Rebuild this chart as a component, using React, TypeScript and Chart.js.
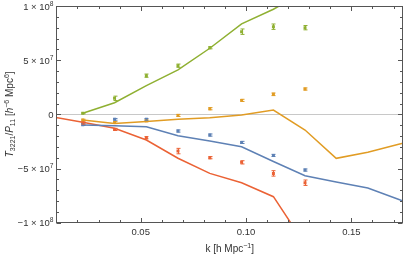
import { useEffect, useRef } from "react";
import { Chart, registerables } from "chart.js";
Chart.register(...registerables);

// ---- data ----
const kModel = [0.0074, 0.0225, 0.0376, 0.0527, 0.0677, 0.0828, 0.0979, 0.113, 0.128, 0.1428, 0.1578, 0.1729, 0.188];
const greenModel = [null, 0.1e7, 1.07e7, 2.65e7, 4.1e7, 6.1e7, 8.35e7, 9.7e7, 11.35e7, null, null, null, null];
const orangeModel = [null, -0.53e7, -0.85e7, -0.66e7, -0.46e7, -0.31e7, -0.06e7, 0.4e7, -1.45e7, -4.06e7, -3.5e7, -2.74e7, -2.0e7];
const blueModel = [null, -0.99e7, -1.05e7, -1.14e7, -1.98e7, -2.47e7, -2.99e7, -4.35e7, -5.67e7, -6.25e7, -6.8e7, -7.88e7, -8.95e7];
const redModel = [-0.2e7, -0.73e7, -1.29e7, -2.37e7, -4.05e7, -5.45e7, -6.32e7, -7.6e7, -12e7, null, null, null, null];

const kPoints = [0.0225, 0.0376, 0.0527, 0.0677, 0.0828, 0.0979, 0.113, 0.128];
const greenPts = [0.1e7, 1.48e7, 3.57e7, 4.49e7, 6.15e7, 7.63e7, 8.09e7, 8.0e7];
const greenErr = [0.05e7, 0.2e7, 0.15e7, 0.15e7, 0.1e7, 0.25e7, 0.25e7, 0.2e7];
const orangePts = [-0.53e7, -0.75e7, -0.6e7, -0.1e7, 0.52e7, 1.29e7, 1.85e7, 2.34e7];
const orangeErr = [0.08e7, 0.08e7, 0.08e7, 0.1e7, 0.1e7, 0.1e7, 0.12e7, 0.1e7];
const bluePts = [-0.95e7, -0.46e7, -0.46e7, -1.54e7, -1.91e7, -2.59e7, -3.79e7, -5.14e7];
const blueErr = [0.08e7, 0.08e7, 0.08e7, 0.1e7, 0.1e7, 0.1e7, 0.1e7, 0.1e7];
const redPts = [-0.8e7, -1.39e7, -2.16e7, -3.39e7, -4.0e7, -4.43e7, -5.45e7, -6.31e7];
const redErr = [0.1e7, 0.1e7, 0.1e7, 0.25e7, 0.1e7, 0.15e7, 0.25e7, 0.25e7];

const xTickValues = [0.05, 0.1, 0.15];
const xTickLabels = ["0.05", "0.10", "0.15"];
const yTickValues = [1e8, 5e7, 0, -5e7, -1e8];
const yTickMant = ["1", "5", "0", "\u22125", "\u22121"];
const yTickExp = ["8", "7", "", "7", "8"];

const C_BLUE = "#5E81B5";
const C_ORANGE = "#E19C24";
const C_GREEN = "#8FB032";
const C_RED = "#EB6235";
const FONT = "'Liberation Sans', Arial, sans-serif";

type Seg = { t: string; it?: boolean; sub?: boolean; sup?: boolean };

function segFont(s: Seg, size: number) {
  const sz = s.sub || s.sup ? size * 0.7 : size;
  return `${s.it ? "italic " : ""}${sz}px ${FONT}`;
}
function richWidth(ctx: CanvasRenderingContext2D, segs: Seg[], size: number) {
  let w = 0;
  for (const s of segs) {
    ctx.font = segFont(s, size);
    w += ctx.measureText(s.t).width;
  }
  return w;
}
function drawRich(ctx: CanvasRenderingContext2D, segs: Seg[], x: number, y: number, size: number) {
  let cx = x;
  for (const s of segs) {
    ctx.font = segFont(s, size);
    const dy = s.sup ? -size * 0.4 : s.sub ? size * 0.25 : 0;
    ctx.fillText(s.t, cx, y + dy);
    cx += ctx.measureText(s.t).width;
  }
}

const line = (data: (number | null)[], color: string) => ({
  type: "line" as const,
  data: kModel.map((k, i) => ({ x: k, y: data[i] })),
  borderColor: color,
  borderWidth: 1.5,
  pointRadius: 0,
  showLine: true,
  fill: false,
  clip: 0,
  tension: 0,
});
const pts = (data: number[], err: number[], color: string) => ({
  type: "scatter" as const,
  data: kPoints.map((k, i) => ({ x: k, y: data[i] })),
  errs: err,
  backgroundColor: color,
  borderColor: color,
  borderWidth: 0,
  pointStyle: "rect",
  pointRadius: 2.1,
  showLine: false,
  clip: 0,
});

const framePlugin = {
  id: "frame",
  beforeDatasetsDraw(chart: any) {
    const { ctx, chartArea } = chart;
    const y = chart.scales.y;
    const py = Math.round(y.getPixelForValue(0)) + 0.5;
    ctx.save();
    ctx.strokeStyle = "#c8c8c8";
    ctx.lineWidth = 1;
    ctx.beginPath();
    ctx.moveTo(chartArea.left, py);
    ctx.lineTo(chartArea.right, py);
    ctx.stroke();
    ctx.restore();
  },
  afterDatasetsDraw(chart: any) {
    const { ctx } = chart;
    const ys = chart.scales.y;
    chart.data.datasets.forEach((ds: any, i: number) => {
      if (!ds.errs) return;
      const meta = chart.getDatasetMeta(i);
      ctx.save();
      ctx.strokeStyle = ds.borderColor;
      ctx.lineWidth = 1;
      meta.data.forEach((el: any, j: number) => {
        const v = ds.data[j].y;
        const e = ds.errs[j];
        const y1 = ys.getPixelForValue(v + e);
        const y2 = ys.getPixelForValue(v - e);
        const x = Math.round(el.x) + 0.5;
        ctx.beginPath();
        ctx.moveTo(x, y1);
        ctx.lineTo(x, y2);
        ctx.moveTo(x - 2, y1);
        ctx.lineTo(x + 2, y1);
        ctx.moveTo(x - 2, y2);
        ctx.lineTo(x + 2, y2);
        ctx.stroke();
      });
      ctx.restore();
    });
  },
  afterDraw(chart: any) {
    const { ctx, chartArea } = chart;
    const xs = chart.scales.x;
    const ys = chart.scales.y;
    const L = Math.round(chartArea.left) + 0.5;
    const R = Math.round(chartArea.right) - 0.5;
    const T = Math.round(chartArea.top) + 0.5;
    const B = Math.round(chartArea.bottom) - 0.5;
    ctx.save();
    ctx.strokeStyle = "#555";
    ctx.lineWidth = 1;
    ctx.strokeRect(L, T, R - L, B - T);
    ctx.beginPath();
    for (let i = 1; i <= 17; i++) {
      const v = i / 100;
      const major = i % 5 === 0;
      const len = major ? 4.5 : 2.5;
      const px = Math.round(xs.getPixelForValue(v)) + 0.5;
      if (px < L || px > R) continue;
      ctx.moveTo(px, B);
      ctx.lineTo(px, B - len);
      ctx.moveTo(px, T);
      ctx.lineTo(px, T + len);
    }
    for (let i = -10; i <= 10; i++) {
      const v = i * 1e7;
      const major = i % 5 === 0;
      const len = major ? 4.5 : 2.5;
      const py = Math.round(ys.getPixelForValue(v)) + 0.5;
      ctx.moveTo(L, py);
      ctx.lineTo(L + len, py);
      ctx.moveTo(R, py);
      ctx.lineTo(R - len, py);
    }
    ctx.stroke();

    ctx.fillStyle = "#333";
    ctx.textBaseline = "alphabetic";
    const fs = 9.5;
    xTickValues.forEach((v, i) => {
      ctx.font = `${fs}px ${FONT}`;
      ctx.textAlign = "center";
      ctx.fillText(xTickLabels[i], xs.getPixelForValue(v), 234.5);
    });
    ctx.textAlign = "left";
    yTickValues.forEach((v, i) => {
      const segs: Seg[] =
        yTickExp[i] === ""
          ? [{ t: yTickMant[i] }]
          : [{ t: yTickMant[i] + " \u00d7 10" }, { t: yTickExp[i], sup: true }];
      const w = richWidth(ctx, segs, fs);
      const py = ys.getPixelForValue(v);
      drawRich(ctx, segs, 53.5 - w, py + 3.5, fs);
    });

    const xt: Seg[] = [{ t: "k [h Mpc" }, { t: "\u22121", sup: true }, { t: "]" }];
    const xw = richWidth(ctx, xt, 10);
    drawRich(ctx, xt, (chartArea.left + chartArea.right) / 2 - xw / 2, 251.5, 10);

    const yt: Seg[] = [
      { t: "T", it: true },
      { t: "3221", sub: true },
      { t: "/" },
      { t: "P", it: true },
      { t: "11", sub: true },
      { t: " [" },
      { t: "h", it: true },
      { t: "\u22126", sup: true },
      { t: " Mpc" },
      { t: "6", sup: true },
      { t: "]" },
    ];
    const yw = richWidth(ctx, yt, 10);
    ctx.translate(12.5, (chartArea.top + chartArea.bottom) / 2);
    ctx.rotate(-Math.PI / 2);
    drawRich(ctx, yt, -yw / 2, 0, 10);
    ctx.restore();
  },
};

export default function App() {
  const ref = useRef<HTMLCanvasElement>(null);
  useEffect(() => {
    document.body.style.margin = "0";
    const chart = new Chart(ref.current as HTMLCanvasElement, {
      type: "scatter",
      data: {
        datasets: [
          line(greenModel, C_GREEN),
          line(orangeModel, C_ORANGE),
          line(blueModel, C_BLUE),
          line(redModel, C_RED),
          pts(greenPts, greenErr, C_GREEN),
          pts(orangePts, orangeErr, C_ORANGE),
          pts(bluePts, blueErr, C_BLUE),
          pts(redPts, redErr, C_RED),
        ] as any,
      },
      options: {
        animation: false,
        responsive: false,
        devicePixelRatio: 1,
        layout: { padding: { left: 0, top: 6, right: 2.7, bottom: 0 } },
        plugins: { legend: { display: false }, tooltip: { enabled: false } },
        scales: {
          x: {
            type: "linear",
            min: 0.01,
            max: 0.1745,
            ticks: { display: false },
            grid: { display: false },
            border: { display: false },
            afterFit: (s: any) => {
              s.height = 32.3;
            },
          },
          y: {
            type: "linear",
            min: -1e8,
            max: 1e8,
            ticks: { display: false },
            grid: { display: false },
            border: { display: false },
            afterFit: (s: any) => {
              s.width = 56.4;
            },
          },
        },
      } as any,
      plugins: [framePlugin],
    });
    return () => chart.destroy();
  }, []);
  return (
    <canvas
      ref={ref}
      width={407}
      height={255}
      style={{ display: "block", width: 407, height: 255 }}
    />
  );
}
